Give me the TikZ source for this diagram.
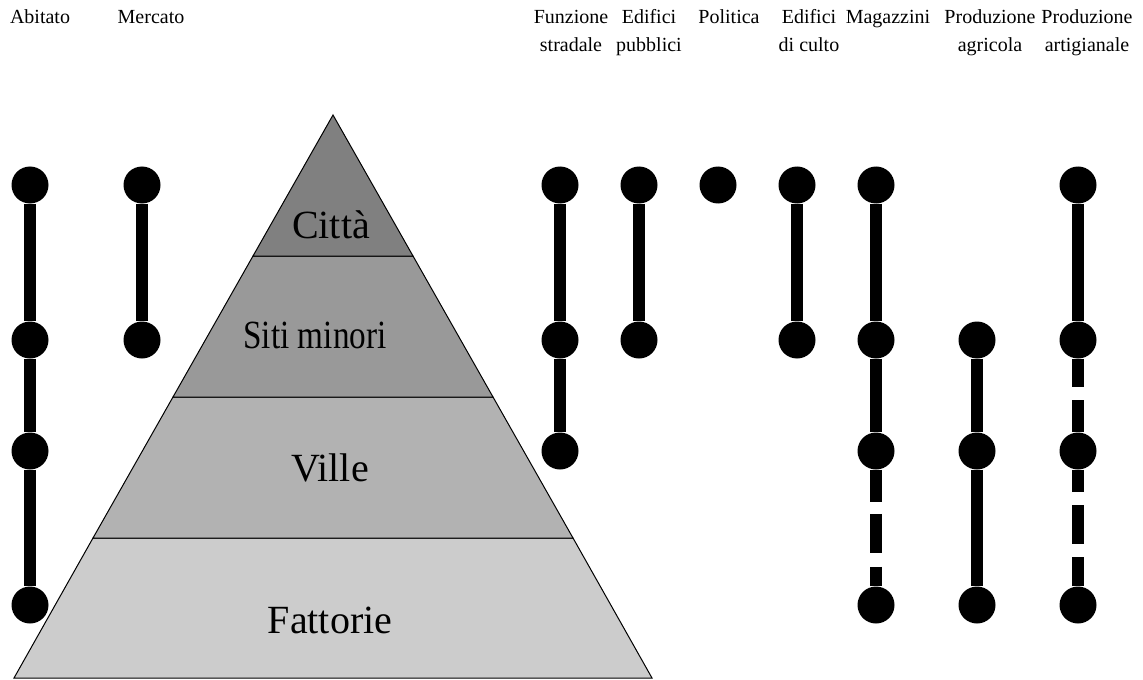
\documentclass[tikz,border=0pt]{standalone}
\usepackage{fontspec}
\setmainfont{Liberation Serif}
\usepackage{tikz}
\definecolor{cittaG}{RGB}{128, 128, 128}
\definecolor{sitiG}{RGB}{153, 153, 153}
\definecolor{villeG}{RGB}{178, 178, 178}
\definecolor{fattG}{RGB}{204, 204, 204}
\tikzset{
  dot/.style = {circle, fill = black, inner sep = 0pt, minimum size = 18.5pt},
  bar/.style = {line width = 6pt},
  head/.style = {align = center, anchor = base, inner sep = 0pt, font = \fontsize{10}{14}\selectfont},
  level/.style = {anchor = base, inner sep = 0pt, font = \fontsize{20}{24}\selectfont}
}

\begin{document}
\begin{tikzpicture}[x = 0.5pt, y = -0.5pt]
			\useasboundingbox (0,0) rectangle (1143,679);
			% piramide
			\fill[fattG, draw = black, line width = 0.5pt] (93,538) -- (573,538) -- (652,678) -- (14,678) -- cycle;
			\fill[villeG, draw = black, line width = 0.5pt] (173,397) -- (493,397) -- (573,538) -- (93,538) -- cycle;
			\fill[sitiG, draw = black, line width = 0.5pt] (253,256) -- (413,256) -- (493,397) -- (173,397) -- cycle;
			\fill[cittaG, draw = black, line width = 0.5pt] (333,115) -- (413,256) -- (253,256) -- cycle;
			\node (citta) at (331,238) [level] {Città};
			\node (siti) at (315,348) [level] {\scalebox{0.83}[1]{Siti minori}};
			\node (ville) at (330,481) [level] {Ville};
			\node (fatt) at (330,633) [level] {Fattorie};
			% intestazioni (base = ultima riga)
			\node (hAb) at (40,24) [head] {Abitato};
			\node (hMe) at (151,24) [head] {Mercato};
			\node (hFs) at (571,52) [head] {Funzione\\stradale};
			\node (hEp) at (649,52) [head] {Edifici\\pubblici};
			\node (hPo) at (729,24) [head] {Politica};
			\node (hEc) at (809,52) [head] {Edifici\\di culto};
			\node (hMa) at (888,24) [head] {Magazzini};
			\node (hPa) at (990,52) [head] {Produzione\\agricola};
			\node (hPr) at (1087,52) [head] {Produzione\\artigianale};
			% pallini
			\node (ab1) at (30,185) [dot] {};
			\node (ab2) at (30,340) [dot] {};
			\node (ab3) at (30,451) [dot] {};
			\node (ab4) at (30,605) [dot] {};
			\node (me1) at (142,185) [dot] {};
			\node (me2) at (142,340) [dot] {};
			\node (fs1) at (560,185) [dot] {};
			\node (fs2) at (560,340) [dot] {};
			\node (fs3) at (560,451) [dot] {};
			\node (ep1) at (639,185) [dot] {};
			\node (ep2) at (639,340) [dot] {};
			\node (po1) at (718,185) [dot] {};
			\node (ec1) at (797,185) [dot] {};
			\node (ec2) at (797,340) [dot] {};
			\node (ma1) at (876,185) [dot] {};
			\node (ma2) at (876,340) [dot] {};
			\node (ma3) at (876,451) [dot] {};
			\node (ma4) at (876,605) [dot] {};
			\node (pa2) at (977,340) [dot] {};
			\node (pa3) at (977,451) [dot] {};
			\node (pa4) at (977,605) [dot] {};
			\node (pr1) at (1078,185) [dot] {};
			\node (pr2) at (1078,340) [dot] {};
			\node (pr3) at (1078,451) [dot] {};
			\node (pr4) at (1078,605) [dot] {};
			% collegamenti
			\draw[bar] (ab1) edge (ab2);
			\draw[bar] (ab2) edge (ab3);
			\draw[bar] (ab3) edge (ab4);
			\draw[bar] (me1) edge (me2);
			\draw[bar] (fs1) edge (fs2);
			\draw[bar] (fs2) edge (fs3);
			\draw[bar] (ep1) edge (ep2);
			\draw[bar] (ec1) edge (ec2);
			\draw[bar] (ma1) edge (ma2);
			\draw[bar] (ma2) edge (ma3);
			\draw[bar, dash pattern = on 16pt off 6pt on 19.5pt off 7pt on 20pt] (ma3) -- (ma4);
			\draw[bar] (pa2) edge (pa3);
			\draw[bar] (pa3) edge (pa4);
			\draw[bar] (pr1) edge (pr2);
			\draw[bar, dash pattern = on 14.25pt off 6.5pt on 30pt] (pr2) -- (pr3);
			\draw[bar, dash pattern = on 11.25pt off 6.5pt on 19.5pt off 6.5pt on 30pt] (pr3) -- (pr4);
\end{tikzpicture}
\end{document}
